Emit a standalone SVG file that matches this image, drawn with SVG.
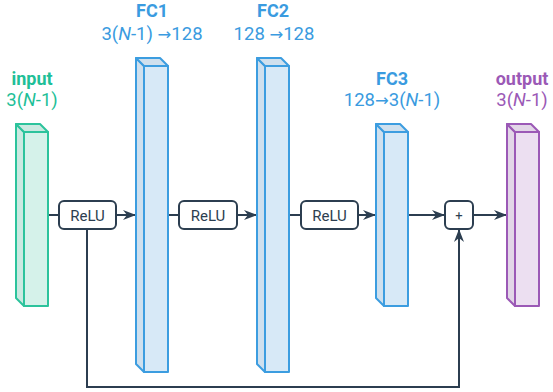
<svg xmlns="http://www.w3.org/2000/svg" width="553" height="392" viewBox="0 0 553 392">
<style>
text{font-family:Roboto,"Liberation Sans",sans-serif;text-anchor:middle}
.t{font-size:18px;font-weight:bold}
.s{font-size:18.5px}
.a{font-family:"DejaVu Sans",sans-serif;font-size:16.5px}
.g{fill:#1fbf98}
.b{fill:#3a9be0}
.p{fill:#9b59b6}
.gb{stroke:#2cc39c;stroke-width:2;stroke-linejoin:round}
.gb .f{fill:#d5f2ea}.gb .d{fill:#cbe9e1}
.bb{stroke:#3c9de0;stroke-width:2;stroke-linejoin:round}
.bb .f{fill:#d7e9f7}.bb .d{fill:#cfe0ee}
.pb{stroke:#9b59b6;stroke-width:2;stroke-linejoin:round}
.pb .f{fill:#ecdff1}.pb .d{fill:#e2d6e7}
.op rect{fill:#fff;stroke:#2c3e50;stroke-width:2}
.op text{font-size:15px;fill:#2c3e50}
.c{fill:none;stroke:#2c3e50;stroke-width:2}
</style>
<defs>
<marker id="ah" markerUnits="userSpaceOnUse" markerWidth="14" markerHeight="10" refX="13" refY="5" orient="auto">
<path d="M0,0 L13,5 L0,10 L4,5 Z" fill="#2c3e50"/>
</marker>
</defs>
<g id="connectors">
<line class="c" x1="48" y1="215" x2="59" y2="215"/>
<line class="c" x1="116" y1="215" x2="136" y2="215" marker-end="url(#ah)"/>
<line class="c" x1="168" y1="215" x2="179" y2="215"/>
<line class="c" x1="237" y1="215" x2="257" y2="215" marker-end="url(#ah)"/>
<line class="c" x1="289" y1="215" x2="301" y2="215"/>
<line class="c" x1="358" y1="215" x2="376" y2="215" marker-end="url(#ah)"/>
<line class="c" x1="408" y1="215" x2="445" y2="215" marker-end="url(#ah)"/>
<line class="c" x1="473" y1="215" x2="507" y2="215" marker-end="url(#ah)"/>
<polyline class="c" points="87,229 87,387 459,387 459,229" marker-end="url(#ah)"/>
</g>
<g id="input" class="gb">
<polygon class="d" points="16,124 24,132 24,306 16,298"/>
<polygon class="d" points="16,124 40,124 48,132 24,132"/>
<rect class="f" x="24" y="132" width="24" height="174"/>
<text class="t g" x="32" y="85" stroke="none">input</text>
<text class="s g" x="32" y="106" stroke="none">3(<tspan font-style="italic">N</tspan>-1)</text>
</g>
<g id="fc1" class="bb">
<polygon class="d" points="136,58 144,66 144,372 136,364"/>
<polygon class="d" points="136,58 160,58 168,66 144,66"/>
<rect class="f" x="144" y="66" width="24" height="306"/>
<text class="t b" x="152" y="17" stroke="none">FC1</text>
<text class="s b" x="152" y="40" stroke="none">3(<tspan font-style="italic">N</tspan>-1) <tspan class="a">→</tspan>128</text>
</g>
<g id="fc2" class="bb">
<polygon class="d" points="257,58 265,66 265,372 257,364"/>
<polygon class="d" points="257,58 281,58 289,66 265,66"/>
<rect class="f" x="265" y="66" width="24" height="306"/>
<text class="t b" x="273" y="17" stroke="none">FC2</text>
<text class="s b" x="274" y="40" stroke="none">128 <tspan class="a">→</tspan>128</text>
</g>
<g id="fc3" class="bb">
<polygon class="d" points="376,124 384,132 384,306 376,298"/>
<polygon class="d" points="376,124 400,124 408,132 384,132"/>
<rect class="f" x="384" y="132" width="24" height="174"/>
<text class="t b" x="392" y="85" stroke="none">FC3</text>
<text class="s b" x="392" y="106" stroke="none">128<tspan class="a">→</tspan>3(<tspan font-style="italic">N</tspan>-1)</text>
</g>
<g id="output" class="pb">
<polygon class="d" points="507,124 515,132 515,306 507,298"/>
<polygon class="d" points="507,124 531,124 539,132 515,132"/>
<rect class="f" x="515" y="132" width="24" height="174"/>
<text class="t p" x="522" y="85" stroke="none">output</text>
<text class="s p" x="522" y="106" stroke="none">3(<tspan font-style="italic">N</tspan>-1)</text>
</g>
<g id="relu1" class="op"><rect x="59" y="201" width="57" height="28" rx="5"/><text x="87.5" y="220.5">ReLU</text></g>
<g id="relu2" class="op"><rect x="179" y="201" width="58" height="28" rx="5"/><text x="208" y="220.5">ReLU</text></g>
<g id="relu3" class="op"><rect x="301" y="201" width="57" height="28" rx="5"/><text x="329.5" y="220.5">ReLU</text></g>
<g id="plus" class="op"><rect x="445" y="201" width="28" height="28" rx="5"/><text x="459" y="220" style="font-size:13px">+</text></g>
</svg>
